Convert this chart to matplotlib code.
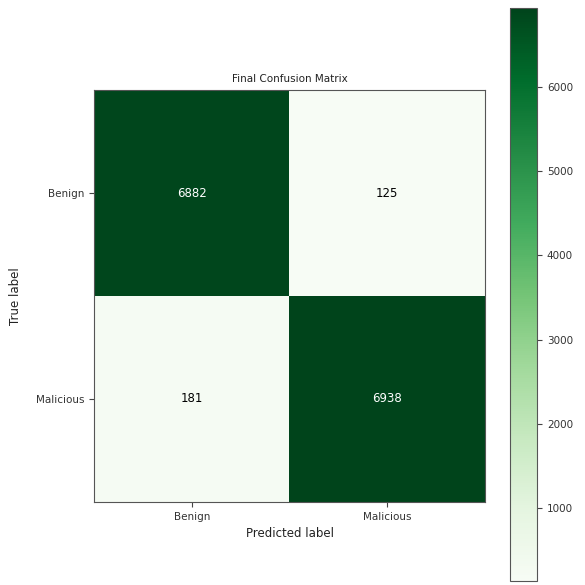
import numpy as np
import matplotlib
matplotlib.use("Agg")
import matplotlib.pyplot as plt

classes = ["Benign", "Malicious"]
matrix = np.array([[6882, 125],
                   [181, 6938]])

fig = plt.figure(figsize=(5.85, 5.85), dpi=100)
ax = fig.add_axes([0.161, 0.142, 0.668, 0.704])
cax = fig.add_axes([0.872, 0.006, 0.046, 0.980])

im = ax.imshow(matrix, interpolation="nearest", cmap="Greens", aspect="auto")
ax.set_title("Final Confusion Matrix", fontsize=7.5, color="#222222")
cb = fig.colorbar(im, cax=cax)
cb.ax.tick_params(labelsize=7.5, labelcolor="#333333", color="#444444")
cb.outline.set_edgecolor("#555555")

ticks = np.arange(len(classes))
ax.set_xticks(ticks)
ax.set_xticklabels(classes, fontsize=7.5, color="#333333")
ax.set_yticks(ticks)
ax.set_yticklabels(classes, fontsize=7.5, color="#333333")
ax.tick_params(color="#444444")

thresh = matrix.max() / 2.0
for i in range(matrix.shape[0]):
    for j in range(matrix.shape[1]):
        ax.text(j, i, format(matrix[i, j], "d"),
                ha="center", va="center", fontsize=8.5,
                color="white" if matrix[i, j] > thresh else "black")

ax.set_ylabel("True label", fontsize=8.5, color="#222222", labelpad=10)
ax.set_xlabel("Predicted label", fontsize=8.5, color="#222222")
for s in ax.spines.values():
    s.set_edgecolor("#555555")

fig.savefig("out.png", dpi=100)
